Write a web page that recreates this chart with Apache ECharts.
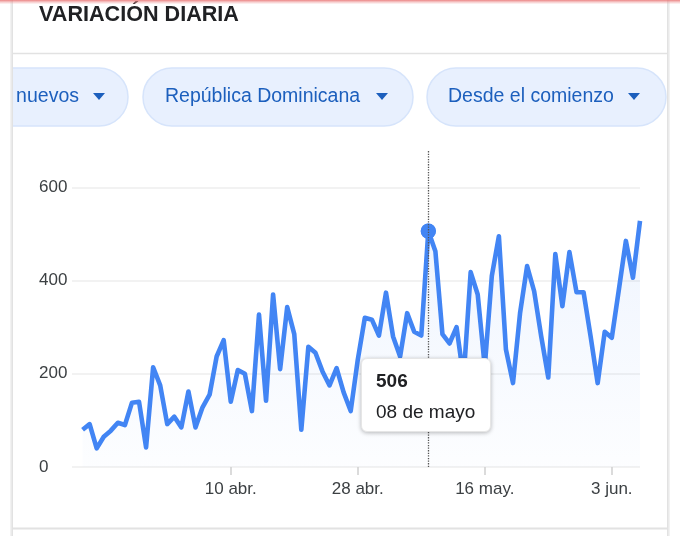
<!DOCTYPE html>
<html>
<head>
<meta charset="utf-8">
<script src="https://cdn.jsdelivr.net/npm/echarts@6/dist/echarts.min.js"></script>
<style>
  html, body { margin: 0; padding: 0; background: #ffffff; }
  #chart { width: 680px; height: 536px; }
</style>
</head>
<body>
<div id="chart"></div>
<script>
// ---- data ----
var title = 'VARIACIÓN DIARIA';
var chipLabels = ['nuevos', 'República Dominicana', 'Desde el comienzo'];
var startDate = [2020, 2, 20]; // 20 de marzo de 2020
var dailyValues = [
  80, 92, 40, 65, 78, 95, 90, 138, 140, 42,
  214, 175, 92, 108, 85, 162, 85, 128, 155, 237,
  272, 140, 208, 200, 120, 327, 142, 370, 210, 343,
  285, 80, 258, 245, 205, 175, 212, 160, 120, 230,
  320, 316, 282, 374, 280, 237, 330, 290, 282, 506,
  463, 285, 265, 300, 190, 418, 370, 215, 410, 495,
  252, 180, 330, 431, 377, 280, 192, 457, 345, 461,
  375, 375, 280, 180, 290, 277, 380, 485, 406, 528
];
var tickDates = [[2020, 3, 10], [2020, 3, 28], [2020, 4, 16], [2020, 5, 3]];
var tickLabels = ['10 abr.', '28 abr.', '16 may.', '3 jun.'];
var yTicks = [0, 200, 400, 600];
var monthNames = ['enero', 'febrero', 'marzo', 'abril', 'mayo', 'junio', 'julio', 'agosto', 'septiembre', 'octubre', 'noviembre', 'diciembre'];
var highlightDate = [2020, 4, 8];

// ---- build ----
var DAY = 86400000;
function dayIndex(d) {
  return Math.round((Date.UTC(d[0], d[1], d[2]) - Date.UTC(startDate[0], startDate[1], startDate[2])) / DAY);
}
function dateOf(i) { return new Date(Date.UTC(startDate[0], startDate[1], startDate[2] + i)); }
var seriesData = dailyValues.map(function (v, i) { return [i, v]; });
var tickIdx = tickDates.map(dayIndex);
var hlIndex = dayIndex(highlightDate);

var FONT = "'Liberation Sans', Arial, Helvetica, sans-serif";
var BLUE = '#4285f4';
var CHIP_TEXT = '#1c5fbd';

function fmtDate(i) {
  var d = dateOf(i);
  var dd = d.getUTCDate();
  return (dd < 10 ? '0' + dd : '' + dd) + ' de ' + monthNames[d.getUTCMonth()];
}

var chipDefs = [
  { x: -120, w: 248, textX: 79, align: 'right', triX: 93 },
  { x: 143, w: 270, textX: 165, align: 'left', triX: 376 },
  { x: 427, w: 239, textX: 448, align: 'left', triX: 628 }
];
var graphics = [];
chipDefs.forEach(function (c, i) {
  graphics.push({
    type: 'rect', z: 1,
    shape: { x: c.x, y: 68, width: c.w, height: 58, r: 29 },
    style: { fill: '#e8f0fe', stroke: '#d6e4fb', lineWidth: 1.5 }
  });
  graphics.push({
    type: 'text', z: 2,
    x: c.textX, y: 97,
    style: { text: chipLabels[i], fill: CHIP_TEXT, font: '19.5px ' + FONT, textAlign: c.align, textVerticalAlign: 'middle' }
  });
  graphics.push({
    type: 'polygon', z: 2,
    shape: { points: [[c.triX, 93], [c.triX + 12, 93], [c.triX + 6, 100]] },
    style: { fill: CHIP_TEXT }
  });
});
graphics.push({ type: 'rect', z: 3, shape: { x: 0, y: 0, width: 11, height: 536 }, style: { fill: '#ffffff' } });
graphics.push({ type: 'rect', z: 4, shape: { x: 10, y: 0, width: 3, height: 536 },
  style: { fill: new echarts.graphic.LinearGradient(0, 0, 1, 0, [{ offset: 0, color: '#f6f6f6' }, { offset: 1, color: '#dedede' }]) } });
graphics.push({ type: 'rect', z: 3, shape: { x: 668, y: 0, width: 12, height: 536 }, style: { fill: '#ffffff' } });
graphics.push({ type: 'rect', z: 4, shape: { x: 667, y: 0, width: 3, height: 536 },
  style: { fill: new echarts.graphic.LinearGradient(0, 0, 1, 0, [{ offset: 0, color: '#dedede' }, { offset: 1, color: '#f6f6f6' }]) } });
graphics.push({ type: 'rect', z: 5, shape: { x: 0, y: 0, width: 680, height: 4 },
  style: { fill: new echarts.graphic.LinearGradient(0, 0, 0, 1, [{ offset: 0, color: 'rgba(232,110,110,0.85)' }, { offset: 1, color: 'rgba(240,170,170,0.1)' }]) } });
graphics.push({ type: 'line', z: 3, shape: { x1: 12, y1: 53.5, x2: 668, y2: 53.5 }, style: { stroke: '#e2e2e2', lineWidth: 1.5 } });
graphics.push({ type: 'line', z: 3, shape: { x1: 12, y1: 528.5, x2: 668, y2: 528.5 }, style: { stroke: '#e2e2e2', lineWidth: 2 } });
graphics.push({
  type: 'text', z: 3, x: 39, y: 15,
  style: { text: title, fill: '#202124', font: 'bold 21.6px ' + FONT, textVerticalAlign: 'middle' }
});

var chart = echarts.init(document.getElementById('chart'), null, { renderer: 'canvas' });
chart.setOption({
  animation: false,
  backgroundColor: '#ffffff',
  graphic: graphics,
  grid: { left: 72, right: 40, top: 150, bottom: 69, containLabel: false },
  xAxis: {
    type: 'value',
    min: -1.5,
    max: dailyValues.length - 1,
    splitLine: { show: false },
    axisLine: { show: false },
    axisTick: { show: true, customValues: tickIdx, length: 8, lineStyle: { color: '#d0d0d0', width: 1.5 } },
    axisLabel: {
      customValues: tickIdx,
      color: '#3c4043', fontSize: 17, fontFamily: FONT, margin: 14,
      formatter: function (v) {
        var k = tickIdx.indexOf(v);
        return k >= 0 ? tickLabels[k] : '';
      }
    }
  },
  yAxis: {
    type: 'value',
    min: 0,
    max: 680,
    interval: 200,
    axisLine: { show: false },
    axisTick: { show: false },
    splitLine: { show: true, showMaxLine: false, lineStyle: { color: '#eeeeee', width: 1.5 } },
    axisLabel: {
      showMaxLabel: false,
      align: 'left', margin: 33,
      color: '#3c4043', fontSize: 17, fontFamily: FONT,
      formatter: function (v) { return yTicks.indexOf(v) >= 0 ? String(v) : ''; }
    }
  },
  tooltip: {
    trigger: 'axis',
    triggerOn: 'none',
    alwaysShowContent: true,
    transitionDuration: 0,
    backgroundColor: '#ffffff',
    borderColor: '#e6e6e6',
    borderWidth: 1,
    padding: [6, 15, 4, 14],
    extraCssText: 'box-shadow: 0 1px 4px rgba(0,0,0,0.28); border-radius: 6px;',
    axisPointer: {
      type: 'line', snap: true,
      label: { show: false },
      lineStyle: { type: 'dotted', color: '#555555', width: 1.3 }
    },
    position: function (point, params, dom, rect, size) {
      return [point[0] - size.contentSize[0] / 2 - 2, 358];
    },
    formatter: function (params) {
      var p = params[0];
      return '<div style="font-family:Liberation Sans,Arial,sans-serif;font-size:19px;line-height:31px;color:#202124;">' +
        '<b>' + p.value[1] + '</b><br/>' + fmtDate(p.value[0]) + '</div>';
    }
  },
  series: [{
    type: 'line',
    data: seriesData,
    showSymbol: false,
    symbol: 'circle',
    symbolSize: 14,
    lineStyle: { color: BLUE, width: 4.6, join: 'round' },
    itemStyle: { color: BLUE },
    emphasis: { disabled: true },
    areaStyle: {
      color: new echarts.graphic.LinearGradient(0, 0, 0, 1, [
        { offset: 0, color: 'rgba(66,133,244,0.12)' },
        { offset: 1, color: 'rgba(66,133,244,0.02)' }
      ])
    },
    markPoint: {
      symbol: 'circle',
      symbolSize: 15,
      itemStyle: { color: BLUE },
      label: { show: false },
      data: [{ coord: seriesData[hlIndex] }]
    }
  }]
});
chart.dispatchAction({ type: 'showTip', seriesIndex: 0, dataIndex: hlIndex });
</script>
</body>
</html>
